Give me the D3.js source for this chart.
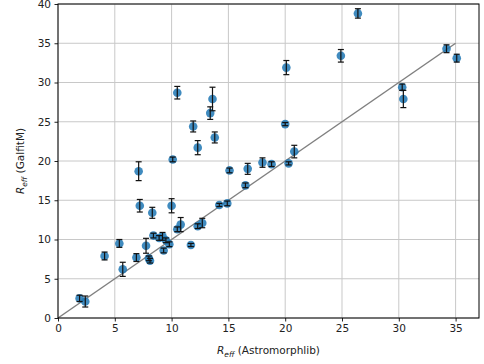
<!DOCTYPE html>
<html><head><meta charset="utf-8">
<script src="https://cdn.jsdelivr.net/npm/d3@7"></script>
<style>body{margin:0;background:#fff}svg{display:block}text{font-family:"DejaVu Sans",sans-serif}</style>
</head><body><svg id="c" width="484" height="364"></svg>
<script>
const xVals = [1.9,2.4,4.1,5.4,5.7,6.9,7.1,7.2,7.75,8.0,8.1,8.3,8.4,8.9,9.2,9.5,9.8,9.3,10.0,10.1,10.5,10.5,10.8,11.7,11.9,12.3,12.3,12.7,13.4,13.6,13.8,14.2,14.9,15.1,16.5,16.7,18.0,18.8,20.0,20.1,20.3,20.8,24.9,26.4,30.3,30.4,34.2,35.1];
const yVals = [2.5,2.1,7.9,9.5,6.2,7.7,18.7,14.3,9.2,7.6,7.3,13.4,10.5,10.2,10.4,9.9,9.4,8.6,14.3,20.2,28.7,11.3,11.9,9.3,24.4,21.7,11.7,12.1,26.1,27.9,23.0,14.4,14.6,18.8,16.9,19.0,19.8,19.6,24.7,31.9,19.7,21.2,33.4,38.8,29.4,27.9,34.3,33.1];
const yErr  = [0.4,0.7,0.5,0.5,0.9,0.5,1.2,0.8,0.95,0.3,0.3,0.7,0.3,0.3,0.5,0.3,0.3,0.3,0.9,0.3,0.8,0.3,0.9,0.2,0.7,0.9,0.3,0.6,0.8,1.5,0.7,0.2,0.3,0.3,0.3,0.7,0.6,0.3,0.2,0.9,0.2,0.8,0.8,0.6,0.4,1.1,0.5,0.5];
const xTicks = [0,5,10,15,20,25,30,35];
const yTicks = [0,5,10,15,20,25,30,35,40];
const lineEnds = [0,35];

const svg = d3.select("#c");
const L=58,R=479,T=4,B=318;
const x = d3.scaleLinear().domain([0,37.06]).range([L,R]);
const y = d3.scaleLinear().domain([0,40]).range([B,T]);

// grid
svg.append("g").selectAll("line").data(xTicks).join("line")
  .attr("x1",d=>x(d)).attr("x2",d=>x(d)).attr("y1",T).attr("y2",B)
  .attr("stroke","#c8c8c8").attr("stroke-width",1);
svg.append("g").selectAll("line").data(yTicks).join("line")
  .attr("y1",d=>y(d)).attr("y2",d=>y(d)).attr("x1",L).attr("x2",R)
  .attr("stroke","#c8c8c8").attr("stroke-width",1);

// diagonal
svg.append("line").attr("x1",x(lineEnds[0])).attr("y1",y(lineEnds[0]))
  .attr("x2",x(lineEnds[1])).attr("y2",y(lineEnds[1]))
  .attr("stroke","#808080").attr("stroke-width",1.5);

const data = xVals.map((v,i)=>({x:v,y:yVals[i],e:yErr[i]}));
// points
svg.append("g").selectAll("circle").data(data).join("circle")
  .attr("cx",d=>x(d.x)).attr("cy",d=>y(d.y)).attr("r",4.3)
  .attr("fill","#1f77b4").attr("fill-opacity",0.85);
// error bars
const eb = svg.append("g").attr("stroke","#111").attr("stroke-width",1.2);
eb.selectAll("line.v").data(data).join("line").attr("class","v")
  .attr("x1",d=>x(d.x)).attr("x2",d=>x(d.x))
  .attr("y1",d=>y(d.y-d.e)).attr("y2",d=>y(d.y+d.e));
eb.selectAll("line.t").data(data).join("line").attr("class","t")
  .attr("x1",d=>x(d.x)-3).attr("x2",d=>x(d.x)+3)
  .attr("y1",d=>y(d.y+d.e)).attr("y2",d=>y(d.y+d.e));
eb.selectAll("line.b").data(data).join("line").attr("class","b")
  .attr("x1",d=>x(d.x)-3).attr("x2",d=>x(d.x)+3)
  .attr("y1",d=>y(d.y-d.e)).attr("y2",d=>y(d.y-d.e));

// axes
const xa = svg.append("g").attr("transform",`translate(0,${B})`)
  .call(d3.axisBottom(x).tickValues(xTicks).tickSize(3.5).tickPadding(3.5));
const ya = svg.append("g").attr("transform",`translate(${L},0)`)
  .call(d3.axisLeft(y).tickValues(yTicks).tickSize(3.5).tickPadding(3.5));
[xa,ya].forEach(a=>{a.select(".domain").remove();
  a.selectAll("text").attr("font-size",10.5).attr("fill","#222").style("font-family","DejaVu Sans");
  a.selectAll("line").attr("stroke","#222");});
// frame
svg.append("rect").attr("x",L).attr("y",T).attr("width",R-L).attr("height",B-T)
  .attr("fill","none").attr("stroke","#000").attr("stroke-width",1);

// labels
const xl = svg.append("text").attr("x",(L+R)/2).attr("y",354).attr("text-anchor","middle")
  .attr("font-size",10.5).attr("fill","#222");
xl.append("tspan").attr("font-style","italic").text("R");
xl.append("tspan").attr("font-style","italic").attr("font-size",7.5).attr("dy",2.5).text("eff");
xl.append("tspan").attr("dy",-2.5).text(" (Astromorphlib)");
const yl = svg.append("text").attr("transform",`translate(24,${(T+B)/2}) rotate(-90)`)
  .attr("text-anchor","middle").attr("font-size",10.5).attr("fill","#222");
yl.append("tspan").attr("font-style","italic").text("R");
yl.append("tspan").attr("font-style","italic").attr("font-size",7.5).attr("dy",2.5).text("eff");
yl.append("tspan").attr("dy",-2.5).text(" (GalfitM)");
</script></body></html>
